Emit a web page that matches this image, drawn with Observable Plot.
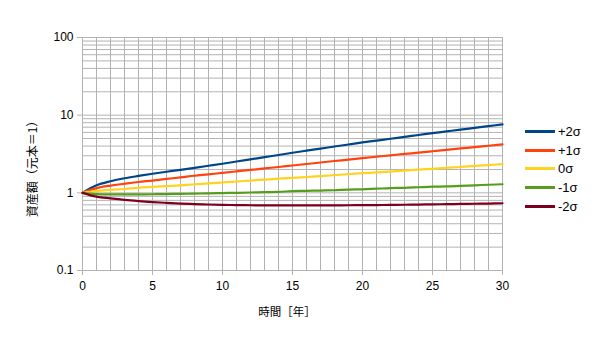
<!DOCTYPE html>
<html><head><meta charset="utf-8">
<script src="https://cdn.jsdelivr.net/npm/d3@7"></script>
<script src="https://cdn.jsdelivr.net/npm/@observablehq/plot@0.6"></script>
<style>
body{margin:0;background:#fff;}
#wrap{position:relative;width:600px;height:337px;font-family:"Liberation Sans","Noto Sans CJK JP",sans-serif;color:#000;}
#wrap svg{position:absolute;left:0;top:0;}
.ttl{position:absolute;font-size:11.5px;white-space:nowrap;font-family:"Noto Sans CJK JP","Liberation Sans",sans-serif;}
.leg{position:absolute;left:525px;font-size:13px;display:flex;align-items:center;height:16px;}
.leg i{display:inline-block;width:30px;height:3px;margin-right:3px;}
</style></head><body><div id="wrap"></div>
<script>
const years = [0,1,2,3,4,5,6,7,8,9,10,11,12,13,14,15,16,17,18,19,20,21,22,23,24,25,26,27,28,29,30];
const plus2  = [1.00,1.25,1.41,1.54,1.65,1.76,1.87,1.98,2.10,2.23,2.37,2.53,2.70,2.88,3.07,3.28,3.49,3.71,3.95,4.19,4.46,4.71,4.97,5.26,5.55,5.87,6.18,6.51,6.85,7.22,7.61];
const plus1  = [1.00,1.15,1.24,1.31,1.38,1.44,1.51,1.58,1.66,1.73,1.81,1.89,1.97,2.06,2.15,2.25,2.35,2.46,2.57,2.68,2.80,2.92,3.04,3.17,3.29,3.43,3.58,3.73,3.87,4.04,4.20];
const zero   = [1.00,1.05,1.09,1.12,1.16,1.19,1.22,1.25,1.29,1.32,1.36,1.40,1.44,1.48,1.52,1.56,1.60,1.64,1.69,1.74,1.79,1.83,1.88,1.93,1.99,2.04,2.10,2.15,2.22,2.28,2.34];
const minus1 = [1.00,0.965,0.956,0.954,0.956,0.959,0.965,0.971,0.977,0.985,0.994,1.00,1.01,1.02,1.03,1.05,1.06,1.07,1.08,1.10,1.11,1.13,1.15,1.16,1.18,1.20,1.21,1.23,1.25,1.27,1.29];
const minus2 = [1.00,0.893,0.849,0.812,0.784,0.761,0.743,0.728,0.717,0.708,0.700,0.696,0.692,0.690,0.688,0.688,0.688,0.688,0.690,0.692,0.694,0.696,0.698,0.702,0.706,0.711,0.715,0.719,0.723,0.728,0.734];
const seriesNames = ["+2σ","+1σ","0σ","-1σ","-2σ"];
const seriesValues = [plus2, plus1, zero, minus1, minus2];
const seriesColors = ["#004586","#ff420e","#ffd320","#579d1c","#7e0021"];
const xTicks = [0,5,10,15,20,25,30];
const yTicks = [0.1,1,10,100];
const yTickLabels = ["0.1","1","10","100"];
const yGrid = [0.1,0.2,0.3,0.4,0.5,0.6,0.7,0.8,0.9,1,2,3,4,5,6,7,8,9,10,20,30,40,50,60,70,80,90,100];
const xTitle = "時間［年］";
const yTitle = "資産額（元本＝1）";

const data = seriesNames.flatMap((s, i) => years.map((t, j) => ({series: s, t, v: seriesValues[i][j]})));
const grid = "#b3b3b3";
const font = '"Liberation Sans","Noto Sans CJK JP",sans-serif';

const chart = Plot.plot({
  width: 600, height: 337,
  marginLeft: 82, marginRight: 98, marginTop: 37, marginBottom: 67,
  style: {fontFamily: font, fontSize: "12px", color: "#000", background: "transparent"},
  x: {domain: [0, 30]},
  y: {type: "log", domain: [0.1, 100]},
  color: {domain: seriesNames, range: seriesColors},
  marks: [
    Plot.gridX(years, {stroke: grid, strokeOpacity: 1}),
    Plot.gridY(yGrid, {stroke: grid, strokeOpacity: 1}),
    Plot.axisX(xTicks, {tickSize: 5, tickPadding: 6, stroke: grid, fill: "#000", label: null, fontSize: 12}),
    Plot.axisY(yTicks, {tickSize: 5, tickPadding: 4, stroke: grid, fill: "#000", label: null, fontSize: 12,
      tickFormat: d => yTickLabels[yTicks.indexOf(d)]}),
    Plot.line(data, {x: "t", y: "v", z: "series", stroke: "series", strokeWidth: 2.2, curve: "monotone-x"})
  ]
});
const wrap = document.getElementById("wrap");
wrap.appendChild(chart);

const xt = document.createElement("div");
xt.className = "ttl"; xt.textContent = xTitle;
xt.style.left = "287px"; xt.style.top = "311px"; xt.style.transform = "translate(-50%,-50%)";
wrap.appendChild(xt);
const yt = document.createElement("div");
yt.className = "ttl"; yt.textContent = yTitle;
yt.style.fontSize = "12px";
yt.style.left = "31px"; yt.style.top = "166px"; yt.style.transform = "translate(-50%,-50%) rotate(-90deg)";
wrap.appendChild(yt);

const legTops = [131, 150, 168.5, 187.5, 206];
seriesNames.forEach((s, i) => {
  const d = document.createElement("div");
  d.className = "leg";
  d.style.top = (legTops[i] - 8) + "px";
  d.innerHTML = `<i style="background:${seriesColors[i]}"></i><span>${s}</span>`;
  wrap.appendChild(d);
});
</script></body></html>
